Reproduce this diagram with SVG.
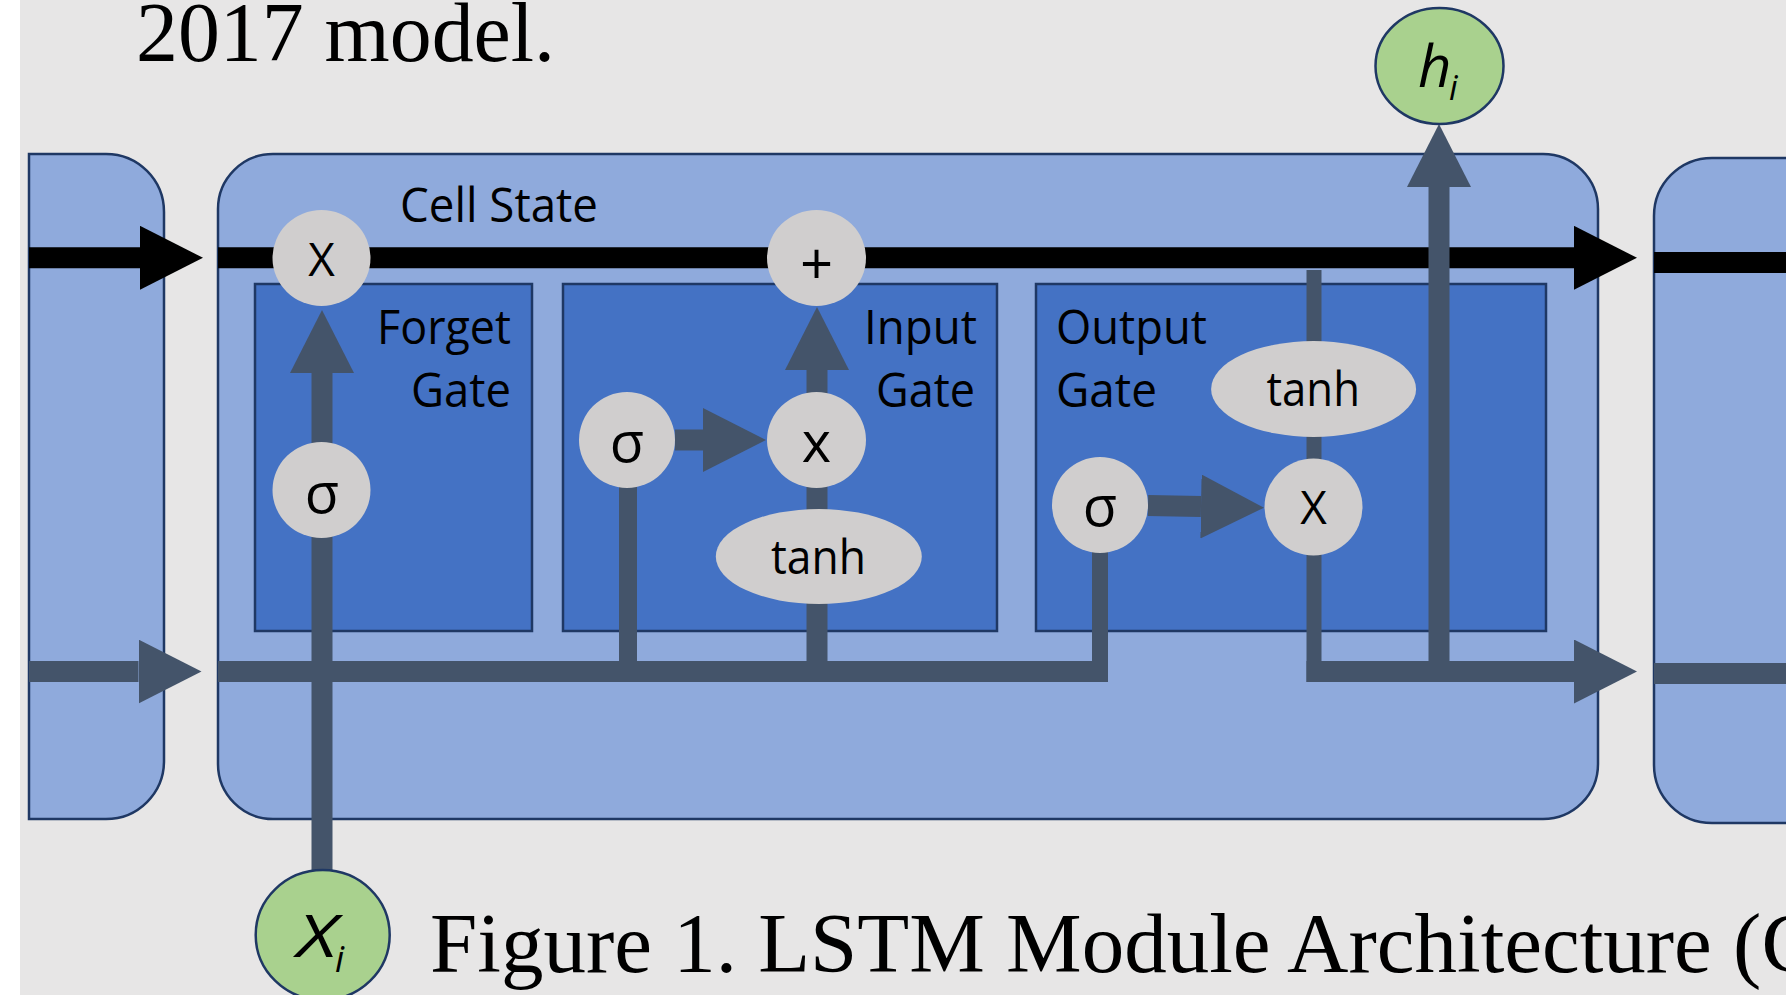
<svg xmlns="http://www.w3.org/2000/svg" width="1786" height="995" viewBox="0 0 1786 995">
  <style>
    .cell { fill: #8faadc; stroke: #1f3864; stroke-width: 2.5; }
    .gate { fill: #4472c4; stroke: #1f3864; stroke-width: 2.5; }
    .op { fill: #d0cece; }
    .io { fill: #a9d18e; stroke: #1f3864; stroke-width: 2.5; }
    .flow { stroke: #44546a; fill: none; stroke-linecap: butt; }
    .state { stroke: #000000; fill: none; stroke-linecap: butt; }
    .lbl { font-family: "Open Sans", "Noto Sans", sans-serif; font-size: 47px; fill: #000; }
    .sym { font-family: "Open Sans", "Noto Sans", sans-serif; fill: #000; text-anchor: middle; }
    .var { font-family: "Open Sans", "Noto Sans", sans-serif; font-style: italic; fill: #000; }
    .cap { font-family: "Liberation Serif", "Times New Roman", serif; font-size: 85px; fill: #000; }
  </style>
  <defs>
    <marker id="headSlate" viewBox="0 0 63 64" markerUnits="userSpaceOnUse" markerWidth="63" markerHeight="64" refX="0" refY="32" orient="auto">
      <path d="M0,0 L63,32 L0,64 z" fill="#44546a"/>
    </marker>
    <marker id="headBlack" viewBox="0 0 63 64" markerUnits="userSpaceOnUse" markerWidth="63" markerHeight="64" refX="0" refY="32" orient="auto">
      <path d="M0,0 L63,32 L0,64 z" fill="#000000"/>
    </marker>
  </defs>

  <!-- page -->
  <rect x="0" y="0" width="1786" height="995" fill="#ffffff"/>
  <rect x="20" y="0" width="1766" height="995" fill="#e7e6e6"/>

  <text class="cap" x="136" y="61" textLength="419" lengthAdjust="spacingAndGlyphs">2017 model.</text>

  <!-- neighbouring cells -->
  <g id="cell-prev">
    <path class="cell" d="M29,154 H106 A58,58 0 0 1 164,212 V761 A58,58 0 0 1 106,819 H29 Z"/>
  </g>
  <g id="cell-next">
    <path class="cell" d="M1800,158 H1712 A58,58 0 0 0 1654,216 V765 A58,58 0 0 0 1712,823 H1800 Z"/>
  </g>

  <!-- LSTM cell -->
  <g id="cell-main">
    <rect class="cell" x="218" y="154" width="1380" height="665" rx="55" ry="55"/>
    <text class="lbl" x="400" y="222" textLength="198" lengthAdjust="spacingAndGlyphs">Cell State</text>
  </g>

  <g id="forget-gate">
    <rect class="gate" x="255" y="284" width="277" height="347"/>
    <text class="lbl" x="377" y="344" textLength="134" lengthAdjust="spacingAndGlyphs">Forget</text>
    <text class="lbl" x="411" y="407" textLength="100" lengthAdjust="spacingAndGlyphs">Gate</text>
  </g>
  <g id="input-gate">
    <rect class="gate" x="563" y="284" width="434" height="347"/>
    <text class="lbl" x="864" y="344" textLength="113" lengthAdjust="spacingAndGlyphs">Input</text>
    <text class="lbl" x="876" y="407" textLength="99" lengthAdjust="spacingAndGlyphs">Gate</text>
  </g>
  <g id="output-gate">
    <rect class="gate" x="1036" y="284" width="510" height="347"/>
    <text class="lbl" x="1056" y="344" textLength="151" lengthAdjust="spacingAndGlyphs">Output</text>
    <text class="lbl" x="1056" y="407" textLength="101" lengthAdjust="spacingAndGlyphs">Gate</text>
  </g>

  <!-- connectors -->
  <g id="connectors">
    <!-- cell state -->
    <line class="state" x1="29" y1="257.8" x2="140" y2="257.8" stroke-width="21" marker-end="url(#headBlack)"/>
    <line class="state" x1="218" y1="257.8" x2="1574" y2="257.8" stroke-width="21" marker-end="url(#headBlack)"/>
    <line class="state" x1="1654" y1="262.5" x2="1786" y2="262.5" stroke-width="21"/>
    <!-- hidden state -->
    <line class="flow" x1="29" y1="671.5" x2="138.5" y2="671.5" stroke-width="21" marker-end="url(#headSlate)"/>
    <line class="flow" x1="218" y1="671.5" x2="1108" y2="671.5" stroke-width="21"/>
    <line class="flow" x1="1306.5" y1="671.5" x2="1574" y2="671.5" stroke-width="21" marker-end="url(#headSlate)"/>
    <line class="flow" x1="1654" y1="673.5" x2="1786" y2="673.5" stroke-width="21"/>
    <!-- forget path -->
    <line class="flow" x1="322" y1="870" x2="322" y2="373" stroke-width="21" marker-end="url(#headSlate)"/>
    <!-- input path -->
    <line class="flow" x1="628" y1="440" x2="628" y2="661" stroke-width="18"/>
    <line class="flow" x1="675" y1="440" x2="703" y2="440" stroke-width="21" marker-end="url(#headSlate)"/>
    <line class="flow" x1="817" y1="661" x2="817" y2="370" stroke-width="21" marker-end="url(#headSlate)"/>
    <!-- output path -->
    <line class="flow" x1="1100" y1="505" x2="1100" y2="682" stroke-width="16"/>
    <line class="flow" x1="1148" y1="505.5" x2="1201" y2="506.5" stroke-width="21" marker-end="url(#headSlate)"/>
    <line class="flow" x1="1314" y1="270" x2="1314" y2="682" stroke-width="15"/>
    <line class="flow" x1="1439" y1="661" x2="1439" y2="187" stroke-width="21" marker-end="url(#headSlate)"/>
  </g>

  <!-- operations -->
  <g id="op-forget-mul">
    <ellipse class="op" cx="321.5" cy="258" rx="49" ry="48"/>
    <text class="sym" x="321.5" y="276" font-size="46">X</text>
  </g>
  <g id="op-add">
    <ellipse class="op" cx="816.5" cy="258" rx="49.5" ry="48"/>
    <text class="sym" x="816.5" y="285" font-size="58">+</text>
  </g>
  <g id="op-forget-sigma">
    <ellipse class="op" cx="321.5" cy="490" rx="49" ry="48"/>
    <text class="sym" x="322" y="513" font-size="56">σ</text>
  </g>
  <g id="op-input-sigma">
    <ellipse class="op" cx="627" cy="440" rx="48" ry="48"/>
    <text class="sym" x="627" y="462" font-size="56">σ</text>
  </g>
  <g id="op-input-mul">
    <ellipse class="op" cx="816.5" cy="440" rx="49.5" ry="48"/>
    <text class="sym" x="816.5" y="462" font-size="56">x</text>
  </g>
  <g id="op-input-tanh">
    <ellipse class="op" cx="818.8" cy="556.5" rx="103" ry="47.5"/>
    <text class="lbl" x="771" y="574" textLength="95" lengthAdjust="spacingAndGlyphs">tanh</text>
  </g>
  <g id="op-output-sigma">
    <ellipse class="op" cx="1100" cy="505" rx="48" ry="48"/>
    <text class="sym" x="1100" y="526" font-size="56">σ</text>
  </g>
  <g id="op-output-mul">
    <ellipse class="op" cx="1313.5" cy="507" rx="49" ry="48.5"/>
    <text class="sym" x="1313.5" y="524" font-size="46">X</text>
  </g>
  <g id="op-output-tanh">
    <ellipse class="op" cx="1313.6" cy="389" rx="102.5" ry="48"/>
    <text class="lbl" x="1266.5" y="406" textLength="93.5" lengthAdjust="spacingAndGlyphs">tanh</text>
  </g>

  <!-- input and output -->
  <g id="node-h">
    <ellipse class="io" cx="1439.5" cy="66" rx="64" ry="58"/>
    <text class="var" x="1418" y="87" font-size="58">h</text>
    <text class="var" x="1449" y="100" font-size="34">i</text>
  </g>
  <g id="node-x">
    <ellipse class="io" cx="322.7" cy="935" rx="67" ry="65"/>
    <text class="var" x="297" y="957" font-size="58" textLength="40" lengthAdjust="spacingAndGlyphs">X</text>
    <text class="var" x="335" y="972" font-size="36">i</text>
  </g>

  <text class="cap" x="430" y="972">Figure 1. LSTM Module Architecture (C</text>
</svg>
